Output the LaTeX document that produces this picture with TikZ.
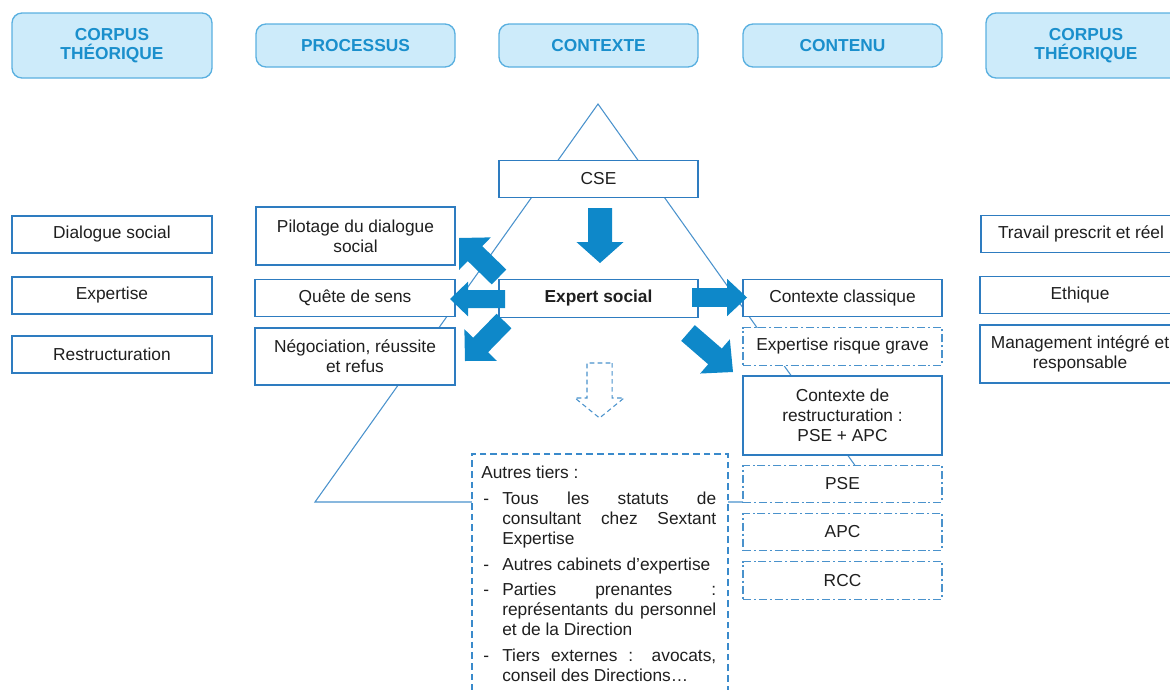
\documentclass[tikz,border=0pt]{standalone}
\usepackage{fontspec}
\setmainfont{Liberation Sans}
\usetikzlibrary{calc}
\definecolor{hfill}{HTML}{CDEBFA}
\definecolor{hborder}{HTML}{5AB0E0}
\definecolor{htext}{HTML}{1A8FCC}
\definecolor{bborder}{HTML}{2E7CC0}
\definecolor{tri}{HTML}{4A92CC}
\definecolor{dashc}{HTML}{3A8ACB}
\definecolor{afill}{HTML}{0E88C9}
\definecolor{txt}{HTML}{1F1F1F}
\tikzset{
 sz/.style 2 args={minimum width=#1*0.75pt, minimum height=#2*0.75pt},
 header/.style={draw=hborder, fill=hfill, rounded corners=7.5pt, line width=1pt, text=htext,
   font=\fontsize{13}{14.5}\selectfont\bfseries, align=center, inner sep=0pt},
 box/.style={draw=bborder, fill=white, line width=1pt, text=txt,
   font=\fontsize{13}{15}\selectfont, align=center, inner sep=0pt},
 dashdotbox/.style={box, draw=tri, dash pattern=on 6pt off 2.2pt on 1.5pt off 2.2pt},
 dashbox/.style={draw=dashc, fill=white, line width=1.15pt, inner sep=0pt, dash pattern=on 5pt off 3pt},
 triline/.style={draw=tri, line width=0.8pt},
 solidarrow/.style={fill=afill},
 ghostarrow/.style={draw=tri, line width=0.8pt, dash pattern=on 3.5pt off 2.5pt, fill=white},
}
\newcommand\blockarrow[6]{%
  \coordinate (ab) at ($(#2)!#4!(#3)$);
  \path[#1] ($(#2)!#5!90:(#3)$) -- ($(ab)!#5!90:(#3)$) -- ($(ab)!#6!90:(#3)$) -- (#3)
    -- ($(ab)!#6!-90:(#3)$) -- ($(ab)!#5!-90:(#3)$) -- ($(#2)!#5!-90:(#3)$) -- cycle;}
\begin{document}
\begin{tikzpicture}[x=0.75pt, y=-0.75pt]
\useasboundingbox (0,0) rectangle (1170,689);
\clip (0,0) rectangle (1170,689);

% triangle
\coordinate (apex) at (598,104);
\coordinate (bl) at (315,502);
\coordinate (br) at (881,502);
\draw[triline] (apex) -- (bl) -- (br) -- cycle;

% headers
\node[header, sz={200}{65}] (hcl) at (112,45.5) {CORPUS\\THÉORIQUE};
\node[header, sz={199}{43}] (hproc) at (355.5,45.5) {PROCESSUS};
\node[header, sz={199}{43}] (hctx) at (598.5,45.5) {CONTEXTE};
\node[header, sz={199}{43}] (hcont) at (842.5,45.5) {CONTENU};
\node[header, sz={200}{65}] (hcr) at (1086,45.5) {CORPUS\\THÉORIQUE};

% left column
\node[box, sz={200}{37}] (dial) at (112,234.5) {Dialogue social};
\node[box, sz={200}{37}] (expz) at (112,295.5) {Expertise};
\node[box, sz={200}{37}] (restr) at (112,354.5) {Restructuration};

% processus
\node[box, sz={199}{58}] (pilot) at (355.5,236) {Pilotage du dialogue\\social};
\node[box, sz={200}{37}] (quete) at (355,298) {Quête de sens};
\node[box, sz={200}{57}] (nego) at (355,356.5) {Négociation, réussite\\et refus};

% contexte
\node[box, sz={199}{37}] (cse) at (598.5,179) {CSE};
\node[box, sz={199}{38}, font=\fontsize{13}{15}\selectfont\bfseries] (expert) at (598.5,298.5) {Expert social};

% contenu
\node[box, sz={199}{37}] (classique) at (842.5,298) {Contexte classique};
\node[dashdotbox, sz={199}{38}] (risque) at (842.5,346.5) {Expertise risque grave};
\node[box, sz={199}{79}] (restruct) at (842.5,415.5) {Contexte de\\restructuration :\\PSE + APC};
\node[dashdotbox, sz={199}{37}] (pse) at (842.5,484) {PSE};
\node[dashdotbox, sz={199}{37}] (apc) at (842.5,532) {APC};
\node[dashdotbox, sz={199}{38}] (rcc) at (842.5,580.5) {RCC};

% right column
\node[box, sz={200}{37}] (travail) at (1081,234) {Travail prescrit et réel};
\node[box, sz={200}{37}] (ethique) at (1080,295) {Ethique};
\node[box, sz={200}{58}] (mgmt) at (1080,354) {Management intégré et\\responsable};

% autres tiers
\node[dashbox, anchor=north west, sz={256}{260}] (tiers) at (471,453) {};
\node[anchor=north west, inner sep=0pt, align=left, text=txt,
      font=\fontsize{13}{15.2}\selectfont] (tierstxt) at (481,466) {%
Autres tiers :\\[3.8pt]
\hspace*{1.5pt}\makebox[14.25pt][l]{-}\makebox[160.5pt][s]{Tous les statuts de}\\
\hspace*{15.75pt}\makebox[160.5pt][s]{consultant chez Sextant}\\
\hspace*{15.75pt}Expertise\\[3.8pt]
\hspace*{1.5pt}\makebox[14.25pt][l]{-}Autres cabinets d’expertise\\[3.8pt]
\hspace*{1.5pt}\makebox[14.25pt][l]{-}\makebox[160.5pt][s]{Parties prenantes :}\\
\hspace*{15.75pt}\makebox[160.5pt][s]{représentants du personnel}\\
\hspace*{15.75pt}et de la Direction\\[3.8pt]
\hspace*{1.5pt}\makebox[14.25pt][l]{-}\makebox[160.5pt][s]{Tiers externes : avocats,}\\
\hspace*{15.75pt}conseil des Directions…};

% block arrows
\coordinate (a1t) at (600,208);   \coordinate (a1h) at (600,263);
\coordinate (a2t) at (692,297.5); \coordinate (a2h) at (747,297.5);
\coordinate (a3t) at (505,299);   \coordinate (a3h) at (450,299);
\coordinate (a4t) at (499,277);   \coordinate (a4h) at (459,238);
\coordinate (a5t) at (504,321);   \coordinate (a5h) at (465,361);
\coordinate (a6t) at (688,333);   \coordinate (a6h) at (733,372);
\coordinate (a7t) at (599.5,363); \coordinate (a7h) at (599.5,418);
\blockarrow{solidarrow}{a1t}{a1h}{0.62}{9pt}{17.6pt}
\blockarrow{solidarrow}{a2t}{a2h}{0.64}{7.1pt}{13.9pt}
\blockarrow{solidarrow}{a3t}{a3h}{0.67}{6.75pt}{13.1pt}
\blockarrow{solidarrow}{a4t}{a4h}{0.6}{7.8pt}{17pt}
\blockarrow{solidarrow}{a5t}{a5h}{0.6}{7.8pt}{17pt}
\blockarrow{solidarrow}{a6t}{a6h}{0.6}{7.8pt}{17pt}
\blockarrow{ghostarrow}{a7t}{a7h}{0.636}{9.4pt}{18.4pt}
\end{tikzpicture}
\end{document}
